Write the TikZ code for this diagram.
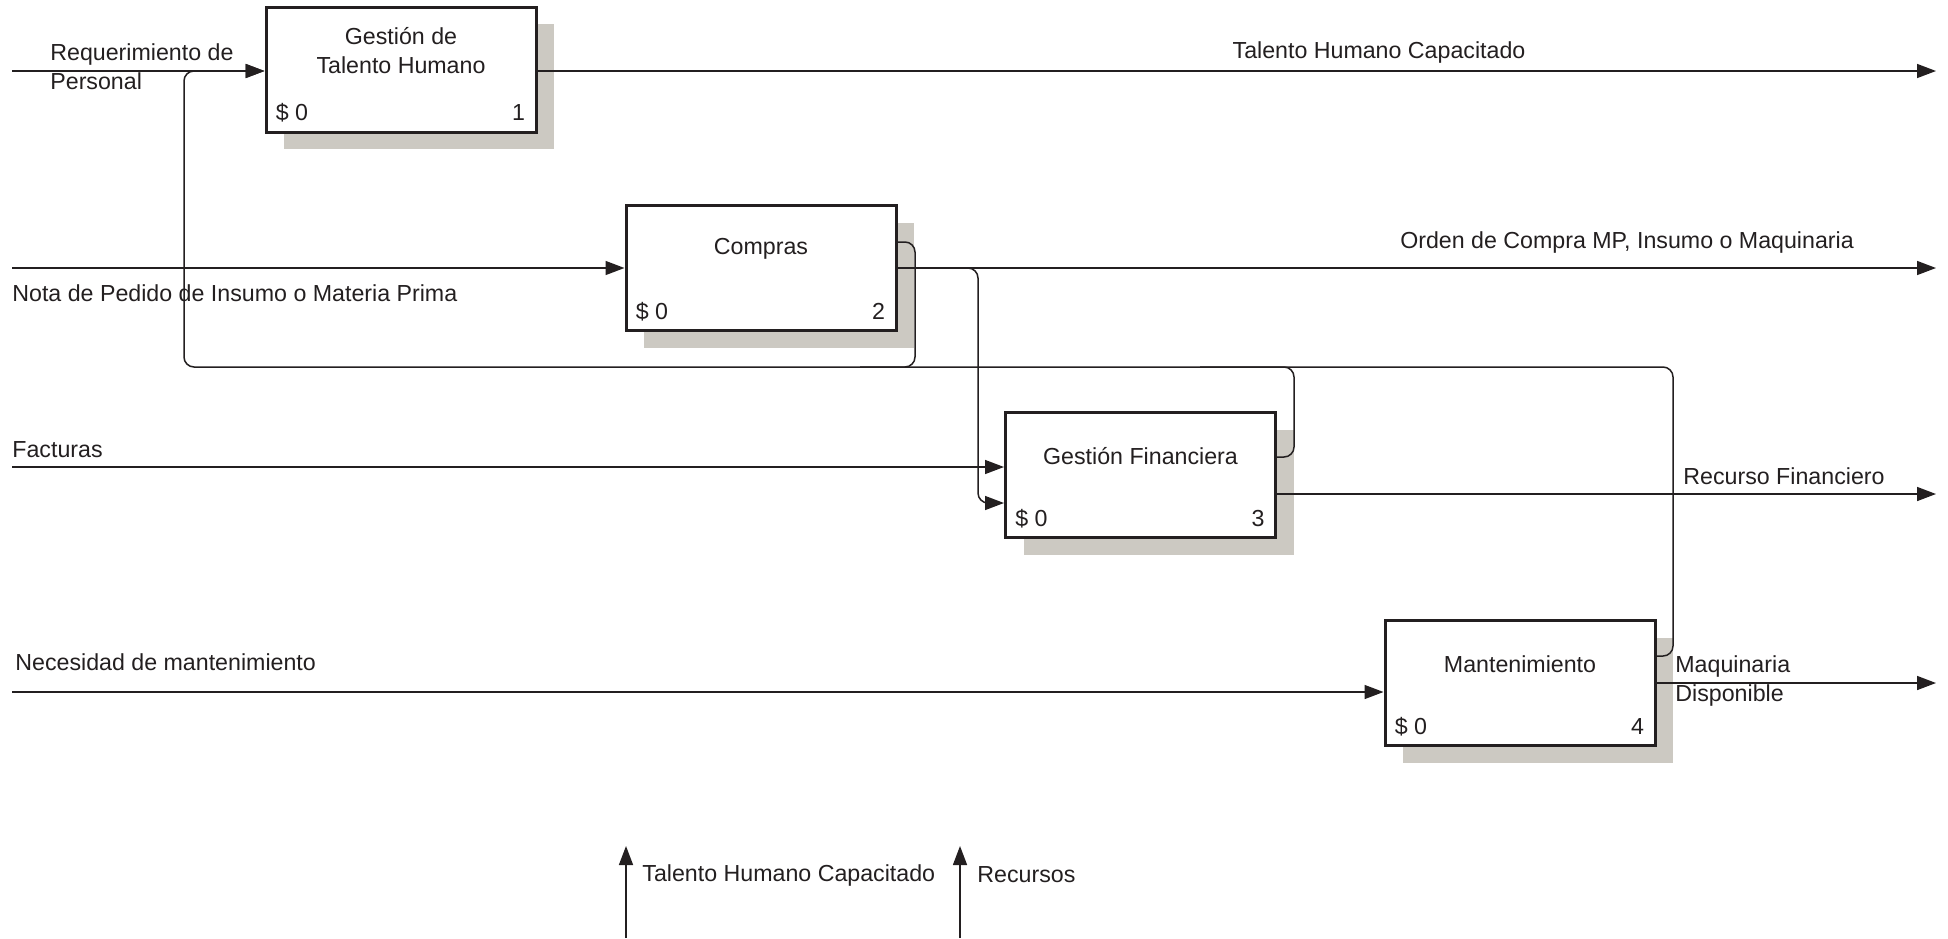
\documentclass[tikz,border=0pt]{standalone}
\usepackage{fontspec}
\setmainfont{Liberation Sans}
\usetikzlibrary{arrows.meta,calc,shadows}
\definecolor{ink}{RGB}{35,31,32}
\definecolor{shade}{RGB}{204,201,194}
\begin{document}
\begin{tikzpicture}[x=0.5pt,y=-0.5pt,
  every node/.style={font=\fontsize{11.6}{14.5}\selectfont, text=ink, inner sep=0pt},
  actbox/.style={draw=ink, line width=1.5pt, fill=white,
    minimum width=135pt, minimum height=62.5pt,
    drop shadow={shadow xshift=9pt, shadow yshift=-8.5pt, fill=shade, opacity=1}},
  flow/.style={draw=ink, line width=0.75pt},
  tip/.style={-{Triangle[length=9.5pt,width=7pt]}},
  arr/.style={flow, tip},
  roundline/.style={flow, rounded corners=5pt},
]
\useasboundingbox (0,0) rectangle (1948,938);

% activity boxes
\node[actbox] (b1) at (401,69.5) {};
\node[actbox] (b2) at (761,268) {};
\node[actbox] (b3) at (1140.5,475) {};
\node[actbox] (b4) at (1520,683) {};

% titles, costs and numbers
\node[align=center] (t1) at ($(b1.north)+(0,45)$) {Gestión de\\Talento Humano};
\node (t2) at ($(b2.north)+(0,45)$) {Compras};
\node (t3) at ($(b3.north)+(0,45)$) {Gestión Financiera};
\node (t4) at ($(b4.north)+(0,45)$) {Mantenimiento};
\foreach \b/\n in {b1/1,b2/2,b3/3,b4/4}{
  \node[anchor=base west] (c\n) at ($(\b.south west)+(11,-13)$) {\$ 0};
  \node[anchor=base east] (n\n) at ($(\b.south east)+(-12,-13)$) {\n};
}

% row 1
\coordinate (i1) at (12,71);
\coordinate (o1) at (1936,71);
\draw[arr] (i1) -- (i1 -| b1.west);
\draw[arr] (b1.east |- o1) -- (o1);
\node[anchor=west, align=left] (l1) at (50,67) {Requerimiento de\\Personal};
\node (l2) at (1379,52) {Talento Humano Capacitado};

% row 2
\coordinate (i2) at (12,268);
\coordinate (o2) at (1936,268);
\draw[arr] (i2) -- (i2 -| b2.west);
\draw[arr] (b2.east |- o2) -- (o2);
\node[anchor=west] (l3) at (12,293) {Nota de Pedido de Insumo o Materia Prima};
\node (l4) at (1627,242) {Orden de Compra MP, Insumo o Maquinaria};
\draw[roundline, tip] (b2.east |- o2) -- (978,268) -- (978,503) -- (b3.west |- 0,503);

% row 3
\coordinate (i3) at (12,467);
\coordinate (o3) at (1936,494);
\draw[arr] (i3) -- (i3 -| b3.west);
\draw[arr] (b3.east |- o3) -- (o3);
\node[anchor=west] (l5) at (12,450) {Facturas};
\node (l6) at (1784,476) {Recurso Financiero};

% row 4
\coordinate (i4) at (12,692);
\coordinate (o4) at (1936,683);
\draw[arr] (i4) -- (i4 -| b4.west);
\draw[arr] (b4.east |- o4) -- (o4);
\node[anchor=west] (l7) at (15,662) {Necesidad de mantenimiento};
\node[anchor=west, align=left] (l8) at (1675,681) {Maquinaria\\Disponible};

% feedback loops back to box 1
\coordinate (j) at (184,367);
\draw[roundline, tip] (b4.east |- 0,656) -- (1673,656) -- (1673,367) -- (j) -- (184,71) -- (b1.west |- i1);
\draw[roundline] (b3.east |- 0,457) -- (1294,457) -- (1294,367) -- (1200,367);
\draw[roundline] (b2.east |- 0,242) -- (915,242) -- (915,367) -- (860,367);

% controls entering from below
\coordinate (m1) at (626,938);
\coordinate (m1t) at (626,846);
\coordinate (m2) at (960,938);
\coordinate (m2t) at (960,846);
\draw[arr] (m1) -- (m1t);
\draw[arr] (m2) -- (m2t);
\node[anchor=west] (l9) at (642,875) {Talento Humano Capacitado};
\node[anchor=west] (l10) at (977,875) {Recursos};
\end{tikzpicture}
\end{document}
